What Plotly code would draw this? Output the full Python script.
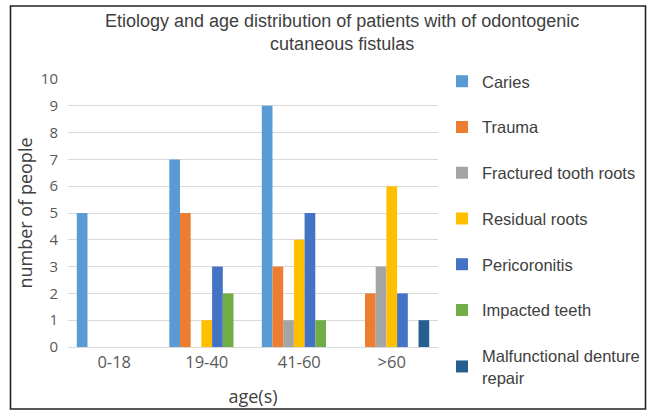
import plotly.graph_objects as go

categories = ["0-18", "19-40", "41-60", ">60"]
series_names = ["Caries", "Trauma", "Fractured tooth roots", "Residual roots",
                "Pericoronitis", "Impacted teeth", "Malfunctional denture<br>repair"]
caries = [5, 7, 9, None]
trauma = [None, 5, 3, 2]
fractured = [None, None, 1, 3]
residual = [None, 1, 4, 6]
pericoronitis = [None, 3, 5, 2]
impacted = [None, 2, 1, None]
malfunctional = [None, None, None, 1]
values = [caries, trauma, fractured, residual, pericoronitis, impacted, malfunctional]
colors = ["#5B9BD5", "#ED7D31", "#A5A5A5", "#FFC000", "#4472C4", "#70AD47", "#255E91"]
y_ticks = list(range(0, 11))
title_text = "Etiology and age distribution of patients with of odontogenic<br>cutaneous fistulas"

fig = go.Figure()
for name, vals, col in zip(series_names, values, colors):
    fig.add_trace(go.Bar(name=name, x=categories, y=vals, marker_color=col,
                         marker_line_width=0, legendgroup=name))

W, H = 652, 411
L, R, T, B = 68, 214, 79, 64
pw, ph = W - L - R, H - T - B

def px(x):
    return (x - L) / pw

def py(y):
    return (H - B - y) / ph

fig.update_layout(
    width=W, height=H,
    margin=dict(l=L, r=R, t=T, b=B, autoexpand=False),
    paper_bgcolor="white", plot_bgcolor="white",
    barmode="group", bargap=0.19, bargroupgap=0,
    font=dict(family="Liberation Sans, Arial, sans-serif", color="#404040"),
    xaxis=dict(showgrid=False, showline=True, linecolor="#D9D9D9", ticks="",
               tickfont=dict(size=16.5, color="#595959", family="Open Sans, sans-serif"),
               title=dict(text="age(s)", standoff=18,
                          font=dict(size=18, color="#404040", family="Open Sans, sans-serif"))),
    yaxis=dict(range=[0, 10], tickvals=y_ticks, showgrid=True, gridcolor="#D9D9D9",
               gridwidth=1.3, zeroline=False, ticks="", ticklabelstandoff=9,
               tickfont=dict(size=15, color="#595959", family="Open Sans, sans-serif"),
               title=dict(text="number of people", standoff=3,
                          font=dict(size=18, color="#404040", family="Open Sans, sans-serif"))),
    legend=dict(x=px(442), xanchor="left", y=py(64), yanchor="top",
                font=dict(size=16.5, color="#404040"), tracegroupgap=21.3,
                bgcolor="rgba(0,0,0,0)", itemwidth=30, maxheight=1.0),
    annotations=[dict(text=title_text, xref="paper", yref="paper",
                      x=px(342), y=py(32.5), xanchor="center", yanchor="middle",
                      showarrow=False, align="center",
                      font=dict(size=18, color="#404040"))],
    shapes=[dict(type="rect", xref="paper", yref="paper",
                 x0=px(10.5), x1=px(645.5), y0=py(409), y1=py(6),
                 line=dict(color="#222222", width=1.6), fillcolor="rgba(0,0,0,0)", layer="above")],
)

fig.write_html("out.html", config={"displayModeBar": False},
               post_script="document.body.style.margin='0';document.body.style.overflow='hidden';")
